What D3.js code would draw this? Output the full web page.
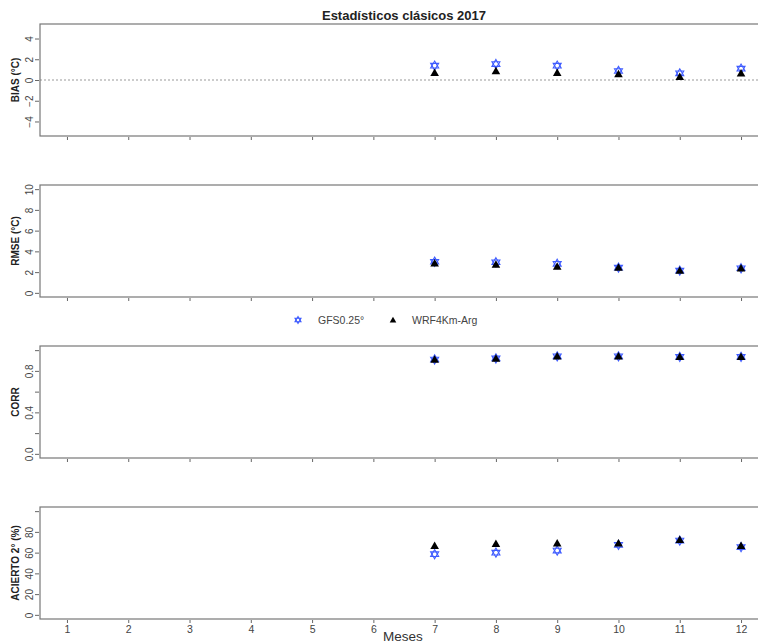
<!DOCTYPE html>
<html>
<head>
<meta charset="utf-8">
<script src="https://cdn.jsdelivr.net/npm/d3@7"></script>
<style>
  body{margin:0;background:#fff;}
  svg{display:block;font-family:"Liberation Sans",Arial,Helvetica,sans-serif;}
  .axis path{display:none;}
  .axis line{stroke:#666;}
  .axis text{fill:#444;font-size:10px;}
</style>
</head>
<body>
<svg id="chart" width="758" height="643"></svg>
<script>
// months and series (only Jul-Dec have data)
var months = [7, 8, 9, 10, 11, 12];
var monthTicks = [1,2,3,4,5,6,7,8,9,10,11,12];

var biasGFS = [1.38, 1.54, 1.38, 0.87, 0.64, 1.09];
var biasWRF = [0.70, 0.87, 0.70, 0.58, 0.32, 0.64];

var rmseGFS = [3.00, 2.95, 2.80, 2.43, 2.14, 2.37];
var rmseWRF = [2.85, 2.72, 2.53, 2.43, 2.14, 2.37];

var corrGFS = [0.91, 0.92, 0.94, 0.94, 0.935, 0.935];
var corrWRF = [0.91, 0.92, 0.94, 0.94, 0.935, 0.935];

var aciertoGFS = [58.5, 60.0, 62.0, 67.5, 71.6, 65.3];
var aciertoWRF = [66.5, 68.4, 69.1, 69.0, 72.3, 66.5];

var panels = [
  {label:'BIAS (°C)', gfs:biasGFS, wrf:biasWRF, domain:[-5,5], ticks:[-4,-2,0,2,4], fmt:d3.format('d'), zero:true},
  {label:'RMSE (°C)', gfs:rmseGFS, wrf:rmseWRF, domain:[0,10], ticks:[0,2,4,6,8,10], fmt:d3.format('d')},
  {label:'CORR', gfs:corrGFS, wrf:corrWRF, domain:[0,1], ticks:[0,0.2,0.4,0.6,0.8,1], fmt:function(d){return (Math.round(d*10)%4===0)?d.toFixed(1):'';}},
  {label:'ACIERTO 2° (%)', gfs:aciertoGFS, wrf:aciertoWRF, domain:[0,100], ticks:[0,20,40,60,80,100], fmt:function(d){return d===100?'':d;}}
];

var svg = d3.select('#chart');
var left = 40, right = 768, panelH = 112, firstTop = 24, step = 161;
var blue = '#3f5cff';

// R style 4% axis expansion
function expand(dom){ var r = (dom[1]-dom[0])*0.04; return [dom[0]-r, dom[1]+r]; }

var x = d3.scaleLinear().domain(expand([1,12])).range([left,right]);

function gfsSymbol(g){
  g.append('path').attr('d','M0,-4.6L4,2.3L-4,2.3Z');
  g.append('path').attr('d','M0,4.6L4,-2.3L-4,-2.3Z');
}

panels.forEach(function(p,i){
  var top = firstTop + i*step, bottom = top + panelH;
  var y = d3.scaleLinear().domain(expand(p.domain)).range([bottom, top]);
  var g = svg.append('g');

  if(p.zero){
    g.append('line')
      .attr('x1',left).attr('x2',right)
      .attr('y1',y(0)).attr('y2',y(0))
      .attr('stroke','#999').attr('stroke-dasharray','2,2').attr('stroke-width',1);
  }

  g.append('rect')
    .attr('x',left).attr('y',top)
    .attr('width',right-left).attr('height',panelH)
    .attr('fill','none').attr('stroke','#777').attr('stroke-width',1.2);

  var ya = g.append('g').attr('class','axis')
    .attr('transform','translate('+(left-1)+',0)')
    .call(d3.axisLeft(y).tickValues(p.ticks).tickFormat(p.fmt).tickSize(4).tickPadding(3));
  ya.selectAll('text')
    .attr('transform','rotate(-90,-10,0)')
    .attr('x',-10).attr('y',0)
    .attr('dy','0.35em').attr('text-anchor','middle');

  var xa = g.append('g').attr('class','axis')
    .attr('transform','translate(0,'+(bottom+1)+')')
    .call(d3.axisBottom(x).tickValues(monthTicks).tickSize(3).tickPadding(3));
  if(i<3){ xa.selectAll('text').remove(); }
  else { xa.selectAll('text').style('font-size','10.5px'); }

  g.append('text')
    .attr('transform','translate(19,'+((top+bottom)/2)+') rotate(-90)')
    .attr('text-anchor','middle')
    .style('font-size','10px').style('font-weight','bold').attr('fill','#222')
    .text(p.label);

  g.selectAll('.gfs').data(months).enter().append('g')
    .attr('class','gfs')
    .attr('transform',function(d,j){return 'translate('+x(d)+','+y(p.gfs[j])+')';})
    .attr('fill','none').attr('stroke',blue).attr('stroke-width',1.1)
    .each(function(){ gfsSymbol(d3.select(this)); });

  g.selectAll('.wrf').data(months).enter().append('path')
    .attr('class','wrf')
    .attr('transform',function(d,j){return 'translate('+x(d)+','+y(p.wrf[j])+')';})
    .attr('d','M0,-4.3L4.3,3.2L-4.3,3.2Z')
    .attr('fill','#000');
});

// title
svg.append('text')
  .attr('x',(left+right)/2).attr('y',20)
  .attr('text-anchor','middle')
  .style('font-size','13px').style('font-weight','bold').attr('fill','#222')
  .text('Estadísticos clásicos 2017');

// legend
var lg = svg.append('g');
var lgY = 320;
var g1 = lg.append('g').attr('transform','translate(298,'+lgY+')')
  .attr('fill','none').attr('stroke',blue).attr('stroke-width',1.1);
g1.append('path').attr('d','M0,-3.5L3,1.8L-3,1.8Z');
g1.append('path').attr('d','M0,3.5L3,-1.8L-3,-1.8Z');
lg.append('text').attr('x',318).attr('y',lgY+4)
  .style('font-size','10.5px').attr('fill','#444').text('GFS0.25°');
lg.append('path').attr('transform','translate(393,'+lgY+')')
  .attr('d','M0,-3.3L3.3,2.5L-3.3,2.5Z').attr('fill','#000');
lg.append('text').attr('x',412).attr('y',lgY+4)
  .style('font-size','10.5px').attr('fill','#444').text('WRF4Km-Arg');

// x axis title
svg.append('text')
  .attr('x',383).attr('y',641)
  .style('font-size','13.5px').attr('fill','#333')
  .text('Meses');
</script>
</body>
</html>
